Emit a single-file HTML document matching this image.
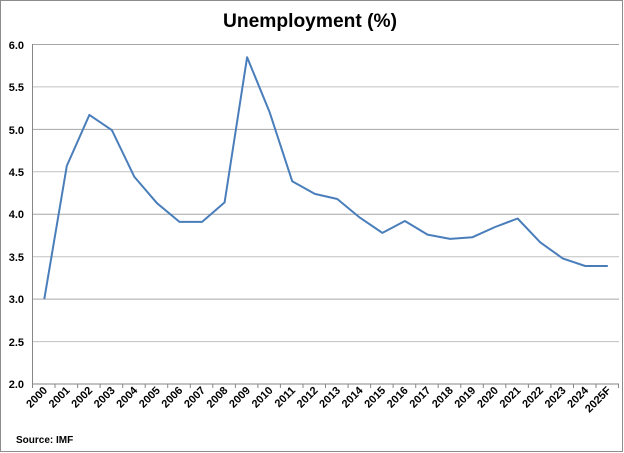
<!DOCTYPE html>
<html><head><meta charset="utf-8"><style>html,body{margin:0;padding:0;background:#fff}svg{display:block}</style></head>
<body>
<svg width="624" height="453" xmlns="http://www.w3.org/2000/svg" font-family="Liberation Sans, sans-serif">
<rect x="0.5" y="0.5" width="622" height="451" fill="#fff" stroke="#8c8c8c"/>
<text x="310" y="27" text-anchor="middle" font-size="19" font-weight="bold" textLength="174" lengthAdjust="spacingAndGlyphs">Unemployment (%)</text>
<g stroke="#a6a6a6" stroke-width="1">
<line x1="33" y1="44.5" x2="619" y2="44.5"/>
<line x1="33" y1="86.9" x2="619" y2="86.9" stroke="#c0c0c0"/>
<line x1="33" y1="129.4" x2="619" y2="129.4"/>
<line x1="33" y1="171.8" x2="619" y2="171.8" stroke="#c0c0c0"/>
<line x1="33" y1="214.2" x2="619" y2="214.2"/>
<line x1="33" y1="256.7" x2="619" y2="256.7" stroke="#c0c0c0"/>
<line x1="33" y1="299.1" x2="619" y2="299.1"/>
<line x1="33" y1="341.6" x2="619" y2="341.6" stroke="#c0c0c0"/>
</g>
<g stroke="#868686" stroke-width="1">
<line x1="32.5" y1="44" x2="32.5" y2="384"/>
<line x1="32" y1="384" x2="619" y2="384"/>
<path d="M32.5 384v4M55 384v4M77.6 384v4M100.1 384v4M122.7 384v4M145.2 384v4M167.7 384v4M190.3 384v4M212.8 384v4M235.4 384v4M257.9 384v4M280.4 384v4M303 384v4M325.5 384v4M348.1 384v4M370.6 384v4M393.1 384v4M415.7 384v4M438.2 384v4M460.8 384v4M483.3 384v4M505.8 384v4M528.4 384v4M550.9 384v4M573.5 384v4M596 384v4M618.5 384v4"/>
</g>
<g font-size="11" font-weight="bold" text-anchor="end">
<text x="24" y="49">6.0</text><text x="24" y="91">5.5</text><text x="24" y="134">5.0</text><text x="24" y="176">4.5</text><text x="24" y="218">4.0</text><text x="24" y="261">3.5</text><text x="24" y="303">3.0</text><text x="24" y="346">2.5</text><text x="24" y="388">2.0</text>
</g>
<polyline fill="none" stroke="#4a7ebb" stroke-width="2" stroke-linejoin="round" points="44.3,299.1 66.8,165.9 89.4,114.9 111.9,130.2 134.4,176.9 157,203.2 179.5,221.9 202.1,221.9 224.6,202.4 247.1,57.2 269.7,112.4 292.2,181.2 314.8,193.9 337.3,199 359.8,217.6 382.4,232.9 404.9,221 427.5,234.6 450,238.9 472.5,237.2 495.1,227 517.6,218.5 540.2,242.3 562.7,258.4 585.2,266 607.8,266"/>
<g font-size="11" font-weight="bold" text-anchor="end">
<text transform="translate(48,391) rotate(-45)">2000</text>
<text transform="translate(70.5,391) rotate(-45)">2001</text>
<text transform="translate(93.1,391) rotate(-45)">2002</text>
<text transform="translate(115.6,391) rotate(-45)">2003</text>
<text transform="translate(138.1,391) rotate(-45)">2004</text>
<text transform="translate(160.7,391) rotate(-45)">2005</text>
<text transform="translate(183.2,391) rotate(-45)">2006</text>
<text transform="translate(205.8,391) rotate(-45)">2007</text>
<text transform="translate(228.3,391) rotate(-45)">2008</text>
<text transform="translate(250.8,391) rotate(-45)">2009</text>
<text transform="translate(273.4,391) rotate(-45)">2010</text>
<text transform="translate(295.9,391) rotate(-45)">2011</text>
<text transform="translate(318.5,391) rotate(-45)">2012</text>
<text transform="translate(341,391) rotate(-45)">2013</text>
<text transform="translate(363.5,391) rotate(-45)">2014</text>
<text transform="translate(386.1,391) rotate(-45)">2015</text>
<text transform="translate(408.6,391) rotate(-45)">2016</text>
<text transform="translate(431.2,391) rotate(-45)">2017</text>
<text transform="translate(453.7,391) rotate(-45)">2018</text>
<text transform="translate(476.2,391) rotate(-45)">2019</text>
<text transform="translate(498.8,391) rotate(-45)">2020</text>
<text transform="translate(521.3,391) rotate(-45)">2021</text>
<text transform="translate(543.9,391) rotate(-45)">2022</text>
<text transform="translate(566.4,391) rotate(-45)">2023</text>
<text transform="translate(588.9,391) rotate(-45)">2024</text>
<text transform="translate(611.5,391) rotate(-45)">2025F</text>
</g>
<text x="16" y="443" font-size="10" font-weight="bold">Source: IMF</text>
</svg>
</body></html>
